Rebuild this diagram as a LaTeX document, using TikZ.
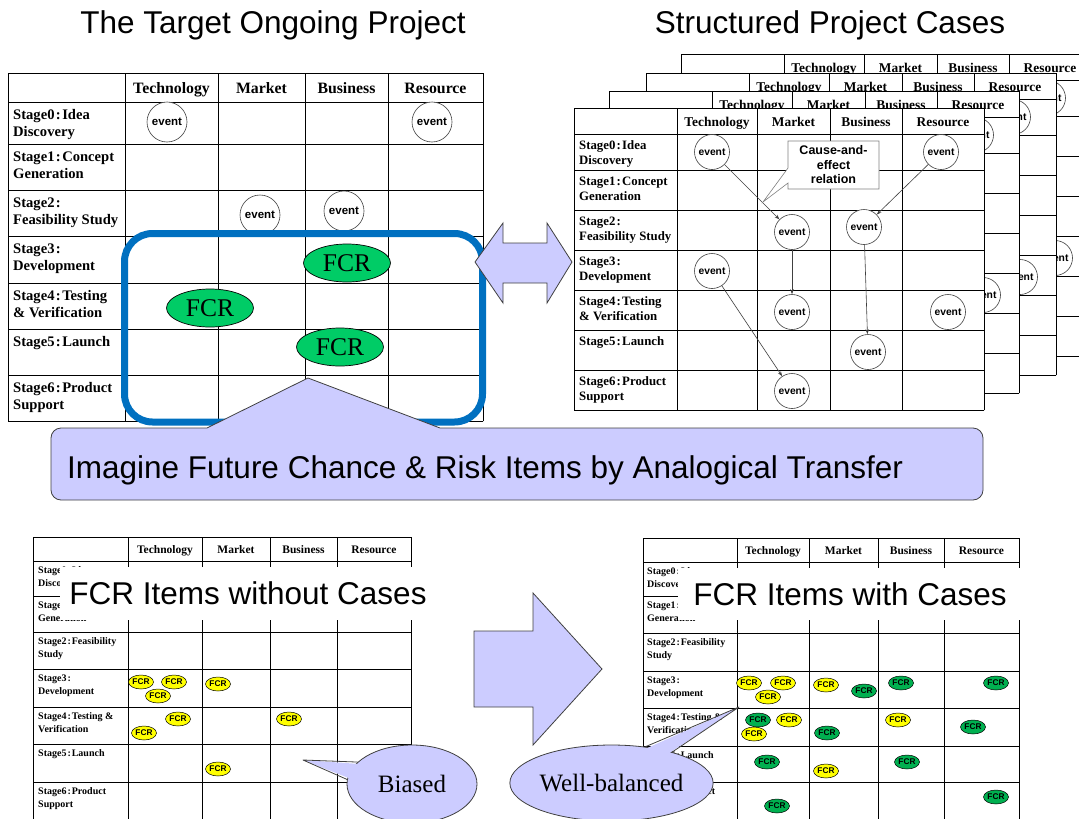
\documentclass[tikz,border=0pt]{standalone}
\usepackage{fontspec}
\setmainfont{Liberation Serif}
\newfontfamily\arialf{Liberation Sans}
\usetikzlibrary{shapes.geometric,arrows.meta,calc}
\definecolor{lav}{RGB}{204,204,255}
\definecolor{fcrg}{RGB}{0,204,102}
\definecolor{fcrdg}{RGB}{0,176,80}
\definecolor{fcry}{RGB}{255,255,0}
\definecolor{blueframe}{RGB}{0,112,192}
\definecolor{outl}{RGB}{64,64,64}
\newcommand\cln{\makebox[0.53em]{:}}
\newcommand\fsz[2]{\fontsize{#1}{#2}\selectfont}
\tikzset{
  tline/.style={line width=0.9pt, line cap=rect},
  hdrA/.style={inner sep=0, anchor=base, font=\bfseries\fsz{15.8}{18}},
  lblA/.style={inner sep=0, anchor=north west, align=left, font=\bfseries\fsz{14.6}{17}},
  evA/.style={circle, draw=outl, line width=0.6pt, fill=white, minimum size=40, inner sep=0, font=\arialf\bfseries\fsz{11.5}{13}},
  bigfcr/.style={ellipse, draw=black, line width=0.7pt, fill=fcrg, minimum width=87, minimum height=38, inner sep=0, font=\fsz{25.5}{27}},
  hdrF/.style={inner sep=0, anchor=base, font=\bfseries\fsz{13.4}{15}},
  lblF/.style={inner sep=0, anchor=north west, align=left, font=\bfseries\fsz{12.8}{15}},
  evF/.style={circle, draw=outl, line width=0.6pt, fill=white, minimum size=35, inner sep=0, font=\arialf\bfseries\fsz{10.3}{12}},
  causeF/.style={inner sep=0, align=center, font=\arialf\bfseries\fsz{12.5}{14.5}},
  hdrS/.style={inner sep=0, anchor=base, font=\bfseries\fsz{11.5}{13}},
  lblS/.style={inner sep=0, anchor=north west, align=left, font=\bfseries\fsz{10}{13}},
  yfcr/.style={ellipse, draw=black, line width=0.5pt, fill=fcry, minimum width=25, minimum height=14, inner sep=0, font=\arialf\bfseries\fsz{8.3}{9}},
  gfcr/.style={yfcr, fill=fcrdg},
  carrow/.style={draw=outl, line width=0.6pt, -{Stealth[length=5pt,width=3.5pt]}},
  bubble/.style={ellipse, draw=outl, fill=lav, line width=0.8pt, inner sep=0, font=\fsz{25}{27}},
  lavshape/.style={draw=outl, fill=lav, line width=0.8pt},
  bigtitle/.style={font=\arialf\fsz{31.5}{34}, inner sep=0}
}
% table frame shared by every case sheet
\newcommand\caseframe{%
  \fill[white] (574,108) rectangle (984,410);
  \foreach \x in {574,677,757,830,902,984} \draw[tline] (\x,108) -- (\x,410);
  \foreach \y in {108,134,170,210,250,290,330,370,410} \draw[tline] (574,\y) -- (984,\y);
  \foreach \n/\tx/\cx in {1/Technology/717,2/Market/793.5,3/Business/866,4/Resource/943}
    \node[hdrF] (h\n) at (\cx,126) {\tx};
}
% sheets behind the front one: only the parts that show
\newcommand\backcase{%
  \caseframe
  \node[evF] (e2) at (941,152) {event};
  \node[evF] (e7) at (948,312) {event};
}
% the front sheet
\newcommand\frontcase{%
  \caseframe
  \foreach \n/\tx/\y in {0/{Stage0\cln Idea\\Discovery}/134, 1/{Stage1\cln Concept\\Generation}/170,
      2/{Stage2\cln\\Feasibility Study}/210, 3/{Stage3\cln\\Development}/250,
      4/{Stage4\cln Testing\\\& Verification}/290, 5/{Stage5\cln Launch}/330,
      6/{Stage6\cln Product\\Support}/370}
    \node[lblF] (s\n) at (579,\y+6.5) {\tx};
  \node[evF] (e1) at (712,152) {event};
  \node[evF] (e2) at (941,152) {event};
  \node[evF] (e3) at (792,232) {event};
  \node[evF] (e4) at (864,227) {event};
  \node[evF] (e5) at (712,271) {event};
  \node[evF] (e6) at (792,312) {event};
  \node[evF] (e7) at (948,312) {event};
  \node[evF] (e8) at (868,352) {event};
  \node[evF] (e9) at (792,391) {event};
  \draw[carrow] (e1) -- (e3);
  \draw[carrow] (e2) -- (e4);
  \draw[carrow] (e3) -- (e6);
  \draw[carrow] (e4) -- (e8);
  \draw[carrow] (e5) -- (e9);
  \coordinate (ctip) at (763,202);
  \draw[fill=white, draw=gray, line width=0.6pt] (788,141) -- (879,141) -- (879,189) -- (788,189) -- (788,183) -- (ctip) -- (788,168) -- cycle;
  \node[causeF] (cause) at (833.5,165) {Cause-and-\\effect\\relation};
}
\begin{document}
\begin{tikzpicture}[x=1pt, y=-1pt]
\useasboundingbox (0,0) rectangle (1079,819);

% ---------- titles
\node[bigtitle, anchor=base] (title1) at (273,33) {The Target Ongoing Project};
\node[bigtitle, anchor=base] (title2) at (830,33) {Structured Project Cases};

% ---------- target project table
\foreach \x in {8,125,218,305,388,483} \draw[tline] (\x,73) -- (\x,421);
\foreach \y in {73,102,144,190,236,283,329,375,421} \draw[tline] (8,\y) -- (483,\y);
\foreach \n/\tx/\cx in {1/Technology/171.5,2/Market/261.5,3/Business/346.5,4/Resource/435.5}
  \node[hdrA] (ta-h\n) at (\cx,93) {\tx};
\foreach \n/\tx/\y in {0/{Stage0\cln Idea\\Discovery}/102, 1/{Stage1\cln Concept\\Generation}/144,
    2/{Stage2\cln\\Feasibility Study}/190, 3/{Stage3\cln\\Development}/236,
    4/{Stage4\cln Testing\\\& Verification}/283, 5/{Stage5\cln Launch}/329,
    6/{Stage6\cln Product\\Support}/375}
  \node[lblA] (ta-s\n) at (13,\y+7.5) {\tx};
\node[evA] (ta-e1) at (167,122) {event};
\node[evA] (ta-e2) at (432,122) {event};
\node[evA] (ta-e3) at (260,215) {event};
\node[evA] (ta-e4) at (344,211) {event};
\node[bigfcr] (ta-f1) at (347,263) {FCR};
\node[bigfcr] (ta-f2) at (210,308) {FCR};
\node[bigfcr] (ta-f3) at (340,347) {FCR};
\node[draw=blueframe, line width=7pt, rounded corners=28, minimum width=358, minimum height=188.5, inner sep=0] (frame) at (303.5,327.75) {};

% ---------- double arrow
\draw[lavshape] (475,262) -- (503,223) -- (503,243) -- (547,243) -- (547,223) -- (572,262)
  -- (547,303) -- (547,283) -- (503,283) -- (503,303) -- cycle;

% ---------- structured project cases (stack)
\begin{scope}[shift={(107,-54)}, name prefix=c4-] \backcase \end{scope}
\begin{scope}[shift={(72,-35)}, name prefix=c3-] \backcase \end{scope}
\begin{scope}[shift={(35,-17)}, name prefix=c2-] \backcase \end{scope}
\begin{scope}[name prefix=c1-] \frontcase \end{scope}

% ---------- imagine callout
\draw[lavshape] (207,428) -- (308,378) -- (440,428) {[rounded corners=10] -- (983,428) -- (983,500) -- (51,500) -- (51,428)} -- cycle;
\node[bigtitle, anchor=base west] (imagine) at (67,478) {Imagine Future Chance \& Risk Items by Analogical Transfer};

% ---------- bottom-left table
\foreach \x in {33,128,202,270,337,411} \draw[tline] (\x,537) -- (\x,825);
\foreach \y in {537,561,596,632,669,707,744,782} \draw[tline] (33,\y) -- (411,\y);
\foreach \n/\tx/\cx in {1/Technology/165,2/Market/236,3/Business/303.5,4/Resource/374}
  \node[hdrS] (bl-h\n) at (\cx,553) {\tx};
\foreach \n/\tx/\y in {0/{Stage0\cln Idea\\Discovery}/561, 1/{Stage1\cln Concept\\Generation}/596,
    2/{Stage2\cln Feasibility\\Study}/632, 3/{Stage3\cln\\Development}/669,
    4/{Stage4\cln Testing \&\\Verification}/707, 5/{Stage5\cln Launch}/744,
    6/{Stage6\cln Product\\Support}/782}
  \node[lblS] (bl-s\n) at (38,\y+5.5) {\tx};
\node[yfcr] (bl-f1) at (141,682) {FCR};
\node[yfcr] (bl-f2) at (174,682) {FCR};
\node[yfcr] (bl-f3) at (158,696) {FCR};
\node[yfcr] (bl-f4) at (218,684) {FCR};
\node[yfcr] (bl-f5) at (178,719) {FCR};
\node[yfcr] (bl-f6) at (144,733) {FCR};
\node[yfcr] (bl-f7) at (289,719) {FCR};
\node[yfcr] (bl-f8) at (218,769) {FCR};
\node[bigtitle, fill=white, minimum width=376, minimum height=53] (bl-title) at (248,593.5) {FCR Items without Cases};

% ---------- bottom-right table
\foreach \x in {643,737,809,878,944,1019} \draw[tline] (\x,538) -- (\x,825);
\foreach \y in {538,562,596,633,671,708,746,782} \draw[tline] (643,\y) -- (1019,\y);
\foreach \n/\tx/\cx in {1/Technology/773,2/Market/843.5,3/Business/911,4/Resource/981.5}
  \node[hdrS] (br-h\n) at (\cx,554) {\tx};
\foreach \n/\tx/\y in {0/{Stage0\cln Idea\\Discovery}/562, 1/{Stage1\cln Concept\\Generation}/596,
    2/{Stage2\cln Feasibility\\Study}/633, 3/{Stage3\cln\\Development}/671,
    4/{Stage4\cln Testing \&\\Verification}/708, 5/{Stage5\cln Launch}/746,
    6/{Stage6\cln Product\\Support}/782}
  \node[lblS] (br-s\n) at (647,\y+5.5) {\tx};
\node[yfcr] (br-y1) at (749,683) {FCR};
\node[yfcr] (br-y2) at (783,683) {FCR};
\node[yfcr] (br-y3) at (768,697) {FCR};
\node[yfcr] (br-y4) at (826,685) {FCR};
\node[yfcr] (br-y5) at (789,720) {FCR};
\node[yfcr] (br-y6) at (754,734) {FCR};
\node[yfcr] (br-y7) at (898,720) {FCR};
\node[yfcr] (br-y8) at (826,771) {FCR};
\node[gfcr] (br-g1) at (864,691) {FCR};
\node[gfcr] (br-g2) at (901,683) {FCR};
\node[gfcr] (br-g3) at (996,683) {FCR};
\node[gfcr] (br-g4) at (758,720) {FCR};
\node[gfcr] (br-g5) at (827,733) {FCR};
\node[gfcr] (br-g6) at (973,727) {FCR};
\node[gfcr] (br-g7) at (767,762) {FCR};
\node[gfcr] (br-g8) at (907,762) {FCR};
\node[gfcr] (br-g9) at (996,797) {FCR};
\node[gfcr] (br-g10) at (777,806) {FCR};
\node[bigtitle, fill=white, minimum width=344, minimum height=52] (br-title) at (850,594) {FCR Items with Cases};

% ---------- big right arrow
\draw[lavshape] (474,631) -- (533,631) -- (533,593) -- (602,669) -- (533,745) -- (533,707) -- (474,707) -- cycle;

% ---------- Biased callout
\node[bubble, minimum width=130, minimum height=78] (biased) at (412,784) {Biased};
\coordinate (btip) at (303,760);
\fill[lav] ($(biased.center)!0.9!(biased.158)$) -- (btip) -- ($(biased.center)!0.9!(biased.176)$) -- cycle;
\draw[outl, line width=0.8pt, line join=round] (biased.158) -- (btip) -- (biased.176);

% ---------- Well-balanced callout
\node[bubble, minimum width=191, minimum height=76] (well) at (611.5,783) {Well-balanced};
\coordinate (wtip) at (739,707);
\fill[lav] ($(well.center)!0.9!(well.47)$) -- (wtip) -- ($(well.center)!0.9!(well.27)$) -- cycle;
\draw[outl, line width=0.8pt, line join=round] (well.47) -- (wtip) -- (well.27);
\end{tikzpicture}
\end{document}
